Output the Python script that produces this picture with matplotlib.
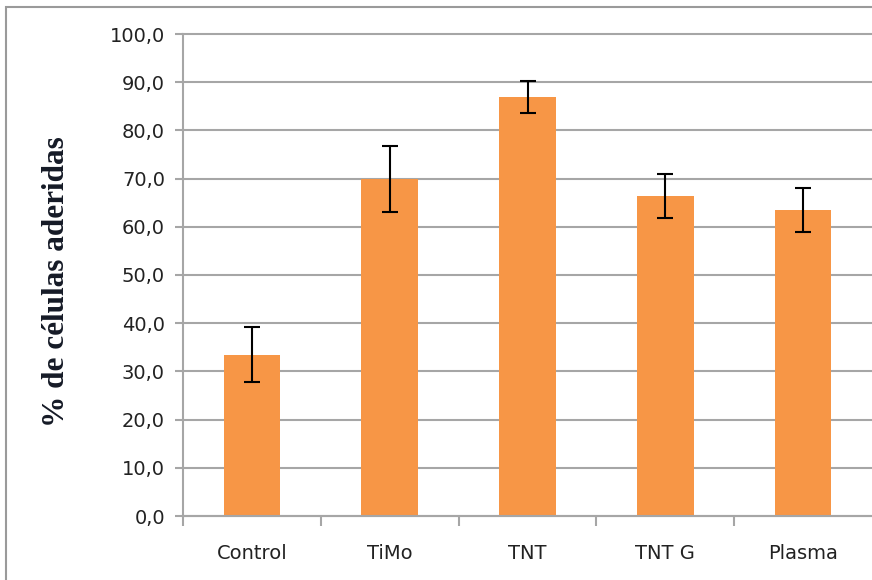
import matplotlib
matplotlib.use("Agg")
import matplotlib.pyplot as plt
from matplotlib.patches import Rectangle
from matplotlib.ticker import FuncFormatter, MultipleLocator

categories = ["Control", "TiMo", "TNT", "TNT G", "Plasma"]
values = [33.5, 69.9, 86.9, 66.4, 63.5]
errors = [5.8, 6.9, 3.3, 4.6, 4.6]

BAR_COLOR = "#f79646"
GRID_COLOR = "#a6a6a6"

fig = plt.figure(figsize=(8.72, 5.8), dpi=100)
# outer chart border (runs off the right and bottom edges)
fig.patches.append(
    Rectangle((6 / 872, -0.1), 1.2, 1 - 7 / 580 + 0.1, transform=fig.transFigure,
              fill=False, edgecolor="#9a9a9a", linewidth=1.5)
)

ax = fig.add_axes([183 / 872, 64 / 580, 1 - 183 / 872, 482 / 580])
x = range(len(categories))
ax.bar(x, values, width=0.41, color=BAR_COLOR, zorder=2)
ax.errorbar(x, values, yerr=errors, fmt="none", ecolor="black", elinewidth=1.5,
            capsize=6, capthick=1.5, zorder=3)

ax.set_xlim(-0.5, len(categories) - 0.5)
ax.set_ylim(0, 100)
ax.yaxis.set_major_locator(MultipleLocator(10))
ax.yaxis.set_major_formatter(FuncFormatter(lambda v, _: f"{v:.1f}".replace(".", ",")))
ax.grid(axis="y", color=GRID_COLOR, linewidth=1.5, zorder=0)
ax.set_axisbelow(True)
for line in ax.get_ygridlines():
    line.set_clip_on(False)

ax.set_xticks(list(x))
ax.set_xticklabels(categories)
ax.tick_params(axis="x", length=0, pad=20, labelsize=14, labelcolor="#222222")
ax.set_xticks([i + 0.5 for i in range(-1, len(categories) - 1)], minor=True)
ax.tick_params(axis="x", which="minor", length=7, width=1.5, color=GRID_COLOR, direction="out")
ax.tick_params(axis="y", length=6, width=1.5, color=GRID_COLOR, labelsize=14,
               labelcolor="#222222", pad=7)

for side in ("top", "right"):
    ax.spines[side].set_visible(False)
for side in ("left", "bottom"):
    ax.spines[side].set_color(GRID_COLOR)
    ax.spines[side].set_linewidth(1.5)

fig.text(56 / 872, 1 - 282 / 580, "% de células aderidas", rotation=90, va="center", ha="center",
         family="Liberation Serif", fontweight="bold", fontsize=22.5, color="#151a26")

fig.savefig("out.png", dpi=100)
